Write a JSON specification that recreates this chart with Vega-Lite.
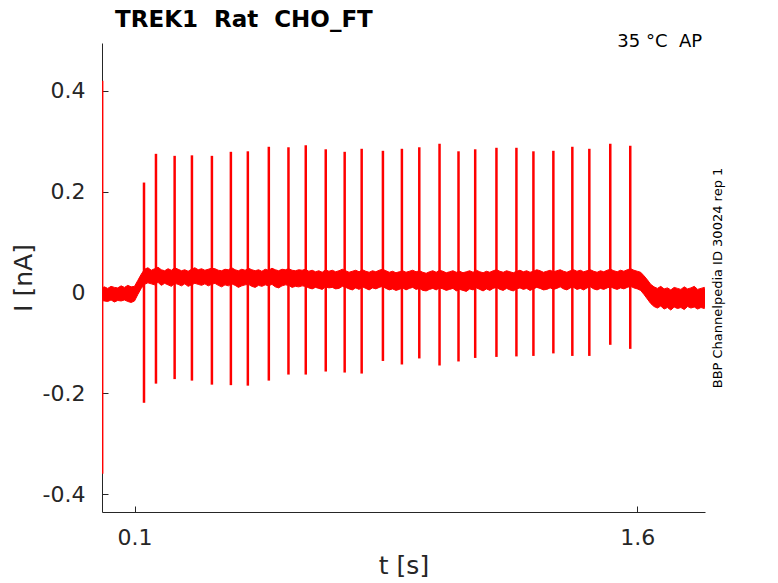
{
  "$schema": "https://vega.github.io/schema/vega-lite/v6.json",
  "autosize": {"type": "none"},
  "width": 603,
  "height": 469,
  "padding": {"left": 102, "top": 43, "right": 73, "bottom": 71},
  "background": "white",
  "config": {"view": {"stroke": null}, "font": "DejaVu Sans"},
  "datasets": {
    "band": [
      {"t":0.003,"hi":0.009,"lo":-0.016},{"t":0.01,"hi":0.011,"lo":-0.017},{"t":0.02,"hi":0.008,"lo":-0.018},{"t":0.03,"hi":0.012,"lo":-0.015},{"t":0.04,"hi":0.010,"lo":-0.019},{"t":0.05,"hi":0.009,"lo":-0.016},{"t":0.06,"hi":0.013,"lo":-0.017},{"t":0.07,"hi":0.010,"lo":-0.015},{"t":0.08,"hi":0.014,"lo":-0.018},{"t":0.09,"hi":0.011,"lo":-0.020},{"t":0.10,"hi":0.012,"lo":-0.017},
      {"t":0.11,"hi":0.024,"lo":-0.004},{"t":0.12,"hi":0.036,"lo":0.008},{"t":0.13,"hi":0.046,"lo":0.016},{"t":0.14,"hi":0.049,"lo":0.019},{"t":0.15,"hi":0.044,"lo":0.017},{"t":0.16,"hi":0.047,"lo":0.015},{"t":0.17,"hi":0.050,"lo":0.020},{"t":0.18,"hi":0.045,"lo":0.014},{"t":0.19,"hi":0.043,"lo":0.018},{"t":0.20,"hi":0.047,"lo":0.015},
      {"t":0.21,"hi":0.044,"lo":0.012},{"t":0.22,"hi":0.049,"lo":0.018},{"t":0.23,"hi":0.046,"lo":0.016},{"t":0.24,"hi":0.043,"lo":0.013},{"t":0.25,"hi":0.045,"lo":0.017},{"t":0.26,"hi":0.042,"lo":0.012},{"t":0.27,"hi":0.046,"lo":0.015},{"t":0.28,"hi":0.049,"lo":0.018},{"t":0.29,"hi":0.045,"lo":0.016},{"t":0.30,"hi":0.047,"lo":0.014},
      {"t":0.31,"hi":0.044,"lo":0.017},{"t":0.32,"hi":0.046,"lo":0.013},{"t":0.33,"hi":0.048,"lo":0.016},{"t":0.34,"hi":0.047,"lo":0.018},{"t":0.35,"hi":0.044,"lo":0.014},{"t":0.36,"hi":0.043,"lo":0.011},{"t":0.37,"hi":0.046,"lo":0.015},{"t":0.38,"hi":0.045,"lo":0.013},{"t":0.39,"hi":0.049,"lo":0.017},{"t":0.40,"hi":0.045,"lo":0.014},
      {"t":0.41,"hi":0.043,"lo":0.010},{"t":0.42,"hi":0.046,"lo":0.013},{"t":0.43,"hi":0.044,"lo":0.015},{"t":0.44,"hi":0.048,"lo":0.016},{"t":0.45,"hi":0.045,"lo":0.012},{"t":0.46,"hi":0.043,"lo":0.010},{"t":0.47,"hi":0.045,"lo":0.014},{"t":0.48,"hi":0.042,"lo":0.012},{"t":0.49,"hi":0.046,"lo":0.015},{"t":0.50,"hi":0.044,"lo":0.013},
      {"t":0.51,"hi":0.048,"lo":0.016},{"t":0.52,"hi":0.045,"lo":0.011},{"t":0.53,"hi":0.043,"lo":0.009},{"t":0.54,"hi":0.046,"lo":0.013},{"t":0.55,"hi":0.045,"lo":0.015},{"t":0.56,"hi":0.047,"lo":0.014},{"t":0.57,"hi":0.044,"lo":0.010},{"t":0.58,"hi":0.043,"lo":0.012},{"t":0.59,"hi":0.045,"lo":0.011},{"t":0.60,"hi":0.044,"lo":0.013},
      {"t":0.61,"hi":0.046,"lo":0.012},{"t":0.62,"hi":0.042,"lo":0.009},{"t":0.63,"hi":0.044,"lo":0.007},{"t":0.64,"hi":0.041,"lo":0.010},{"t":0.65,"hi":0.043,"lo":0.008},{"t":0.66,"hi":0.040,"lo":0.006},{"t":0.67,"hi":0.045,"lo":0.011},{"t":0.68,"hi":0.042,"lo":0.009},{"t":0.69,"hi":0.044,"lo":0.010},{"t":0.70,"hi":0.041,"lo":0.007},
      {"t":0.71,"hi":0.043,"lo":0.008},{"t":0.72,"hi":0.046,"lo":0.012},{"t":0.73,"hi":0.043,"lo":0.010},{"t":0.74,"hi":0.040,"lo":0.007},{"t":0.75,"hi":0.042,"lo":0.005},{"t":0.76,"hi":0.044,"lo":0.009},{"t":0.77,"hi":0.041,"lo":0.006},{"t":0.78,"hi":0.045,"lo":0.011},{"t":0.79,"hi":0.042,"lo":0.008},{"t":0.80,"hi":0.040,"lo":0.005},
      {"t":0.81,"hi":0.043,"lo":0.009},{"t":0.82,"hi":0.041,"lo":0.007},{"t":0.83,"hi":0.044,"lo":0.010},{"t":0.84,"hi":0.046,"lo":0.012},{"t":0.85,"hi":0.043,"lo":0.008},{"t":0.86,"hi":0.040,"lo":0.005},{"t":0.87,"hi":0.042,"lo":0.007},{"t":0.88,"hi":0.039,"lo":0.004},{"t":0.89,"hi":0.041,"lo":0.006},{"t":0.90,"hi":0.043,"lo":0.009},
      {"t":0.91,"hi":0.040,"lo":0.005},{"t":0.92,"hi":0.042,"lo":0.008},{"t":0.93,"hi":0.044,"lo":0.010},{"t":0.94,"hi":0.041,"lo":0.006},{"t":0.95,"hi":0.043,"lo":0.008},{"t":0.96,"hi":0.040,"lo":0.004},{"t":0.97,"hi":0.038,"lo":0.003},{"t":0.98,"hi":0.041,"lo":0.006},{"t":0.99,"hi":0.043,"lo":0.008},{"t":1.00,"hi":0.040,"lo":0.005},
      {"t":1.01,"hi":0.044,"lo":0.009},{"t":1.02,"hi":0.042,"lo":0.007},{"t":1.03,"hi":0.039,"lo":0.004},{"t":1.04,"hi":0.041,"lo":0.006},{"t":1.05,"hi":0.043,"lo":0.008},{"t":1.06,"hi":0.040,"lo":0.003},{"t":1.07,"hi":0.042,"lo":0.006},{"t":1.08,"hi":0.039,"lo":0.004},{"t":1.09,"hi":0.041,"lo":0.002},{"t":1.10,"hi":0.043,"lo":0.007},
      {"t":1.11,"hi":0.040,"lo":0.005},{"t":1.12,"hi":0.044,"lo":0.009},{"t":1.13,"hi":0.041,"lo":0.006},{"t":1.14,"hi":0.039,"lo":0.003},{"t":1.15,"hi":0.042,"lo":0.007},{"t":1.16,"hi":0.040,"lo":0.004},{"t":1.17,"hi":0.043,"lo":0.008},{"t":1.18,"hi":0.045,"lo":0.010},{"t":1.19,"hi":0.042,"lo":0.006},{"t":1.20,"hi":0.040,"lo":0.004},
      {"t":1.21,"hi":0.043,"lo":0.008},{"t":1.22,"hi":0.041,"lo":0.005},{"t":1.23,"hi":0.039,"lo":0.003},{"t":1.24,"hi":0.042,"lo":0.007},{"t":1.25,"hi":0.044,"lo":0.009},{"t":1.26,"hi":0.041,"lo":0.006},{"t":1.27,"hi":0.043,"lo":0.008},{"t":1.28,"hi":0.040,"lo":0.004},{"t":1.29,"hi":0.042,"lo":0.007},{"t":1.30,"hi":0.045,"lo":0.010},
      {"t":1.31,"hi":0.043,"lo":0.008},{"t":1.32,"hi":0.040,"lo":0.005},{"t":1.33,"hi":0.042,"lo":0.006},{"t":1.34,"hi":0.044,"lo":0.009},{"t":1.35,"hi":0.041,"lo":0.006},{"t":1.36,"hi":0.043,"lo":0.008},{"t":1.37,"hi":0.045,"lo":0.011},{"t":1.38,"hi":0.042,"lo":0.007},{"t":1.39,"hi":0.040,"lo":0.005},{"t":1.40,"hi":0.043,"lo":0.009},
      {"t":1.41,"hi":0.045,"lo":0.010},{"t":1.42,"hi":0.042,"lo":0.006},{"t":1.43,"hi":0.044,"lo":0.008},{"t":1.44,"hi":0.041,"lo":0.005},{"t":1.45,"hi":0.043,"lo":0.009},{"t":1.46,"hi":0.045,"lo":0.011},{"t":1.47,"hi":0.042,"lo":0.007},{"t":1.48,"hi":0.040,"lo":0.005},{"t":1.49,"hi":0.043,"lo":0.008},{"t":1.50,"hi":0.041,"lo":0.006},
      {"t":1.51,"hi":0.044,"lo":0.009},{"t":1.52,"hi":0.046,"lo":0.011},{"t":1.53,"hi":0.043,"lo":0.008},{"t":1.54,"hi":0.041,"lo":0.006},{"t":1.55,"hi":0.044,"lo":0.009},{"t":1.56,"hi":0.042,"lo":0.007},{"t":1.57,"hi":0.045,"lo":0.010},{"t":1.58,"hi":0.047,"lo":0.012},{"t":1.59,"hi":0.044,"lo":0.009},{"t":1.60,"hi":0.042,"lo":0.007},
      {"t":1.61,"hi":0.040,"lo":0.004},{"t":1.62,"hi":0.033,"lo":-0.004},{"t":1.63,"hi":0.025,"lo":-0.013},{"t":1.64,"hi":0.016,"lo":-0.022},{"t":1.65,"hi":0.011,"lo":-0.028},{"t":1.66,"hi":0.008,"lo":-0.031},{"t":1.67,"hi":0.012,"lo":-0.027},{"t":1.68,"hi":0.007,"lo":-0.033},{"t":1.69,"hi":0.009,"lo":-0.030},{"t":1.70,"hi":0.005,"lo":-0.035},
      {"t":1.71,"hi":0.010,"lo":-0.029},{"t":1.72,"hi":0.008,"lo":-0.032},{"t":1.73,"hi":0.006,"lo":-0.030},{"t":1.74,"hi":0.011,"lo":-0.034},{"t":1.75,"hi":0.007,"lo":-0.028},{"t":1.76,"hi":0.009,"lo":-0.031},{"t":1.77,"hi":0.012,"lo":-0.029},{"t":1.78,"hi":0.006,"lo":-0.033},{"t":1.79,"hi":0.008,"lo":-0.030},{"t":1.80,"hi":0.010,"lo":-0.032},{"t":1.802,"hi":0.007,"lo":-0.029}
    ],
    "spikes": [
      {"t":0.0035,"lo":-0.36,"hi":0.42},
      {"t":0.1283,"lo":-0.219,"hi":0.218},
      {"t":0.1640,"lo":-0.181,"hi":0.275},
      {"t":0.2197,"lo":-0.172,"hi":0.271},
      {"t":0.2713,"lo":-0.175,"hi":0.272},
      {"t":0.3309,"lo":-0.183,"hi":0.271},
      {"t":0.3875,"lo":-0.184,"hi":0.279},
      {"t":0.4381,"lo":-0.185,"hi":0.280},
      {"t":0.5007,"lo":-0.175,"hi":0.289},
      {"t":0.5593,"lo":-0.163,"hi":0.288},
      {"t":0.6109,"lo":-0.163,"hi":0.292},
      {"t":0.6705,"lo":-0.157,"hi":0.284},
      {"t":0.7270,"lo":-0.159,"hi":0.279},
      {"t":0.7777,"lo":-0.161,"hi":0.285},
      {"t":0.8411,"lo":-0.136,"hi":0.281},
      {"t":0.8977,"lo":-0.143,"hi":0.285},
      {"t":0.9496,"lo":-0.131,"hi":0.288},
      {"t":1.0100,"lo":-0.145,"hi":0.295},
      {"t":1.0666,"lo":-0.137,"hi":0.280},
      {"t":1.1164,"lo":-0.130,"hi":0.284},
      {"t":1.1798,"lo":-0.128,"hi":0.287},
      {"t":1.2394,"lo":-0.127,"hi":0.287},
      {"t":1.2901,"lo":-0.126,"hi":0.280},
      {"t":1.3496,"lo":-0.121,"hi":0.281},
      {"t":1.4062,"lo":-0.126,"hi":0.289},
      {"t":1.4569,"lo":-0.126,"hi":0.285},
      {"t":1.5194,"lo":-0.104,"hi":0.295},
      {"t":1.5790,"lo":-0.112,"hi":0.291}
    ]
  },
  "layer": [
    {
      "data": {"name": "band"},
      "mark": {"type": "area", "color": "#ff0000", "stroke": "#ff0000", "strokeWidth": 1, "clip": true},
      "encoding": {
        "x": {"field": "t", "type": "quantitative",
          "scale": {"domain": [0.003, 1.802], "nice": false, "zero": false},
          "axis": {"values": [0.1, 1.6], "labelExpr": "format(datum.value, '.1f')", "title": "t [s]", "grid": false,
            "domainColor": "#262626", "domainWidth": 1, "tickColor": "#262626", "tickWidth": 1, "tickSize": -6,
            "labelPadding": 21, "labelFontSize": 22, "labelColor": "#262626", "labelFont": "DejaVu Sans", "labelFlush": false,
            "titleFontSize": 25, "titleColor": "#262626", "titleFontWeight": "normal", "titleFont": "DejaVu Sans", "titlePadding": 5}},
        "y": {"field": "hi", "type": "quantitative",
          "scale": {"domain": [-0.4357, 0.4949], "nice": false, "zero": false},
          "axis": {"values": [-0.4, -0.2, 0, 0.2, 0.4], "labelExpr": "replace(format(datum.value, '.1~f'), '\u2212', '-')", "title": "I [nA]", "grid": false,
            "domainColor": "#262626", "domainWidth": 1, "tickColor": "#262626", "tickWidth": 1, "tickSize": -6,
            "labelPadding": 23, "labelFontSize": 22, "labelColor": "#262626", "labelFont": "DejaVu Sans",
            "titleFontSize": 25, "titleColor": "#262626", "titleFontWeight": "normal", "titleFont": "DejaVu Sans", "titlePadding": 6}},
        "y2": {"field": "lo"}
      }
    },
    {
      "data": {"name": "spikes"},
      "mark": {"type": "rule", "color": "#ff0000", "strokeWidth": 2.5, "clip": true},
      "encoding": {
        "x": {"field": "t", "type": "quantitative"},
        "y": {"field": "lo", "type": "quantitative", "axis": null},
        "y2": {"field": "hi"}
      }
    },
    {
      "data": {"values": [{}]},
      "mark": {"type": "text", "align": "left", "baseline": "alphabetic", "fontSize": 23, "fontWeight": "bold", "color": "#000000", "font": "DejaVu Sans"},
      "encoding": {
        "x": {"datum": 0.0419, "type": "quantitative"},
        "y": {"datum": 0.527, "type": "quantitative", "axis": null},
        "text": {"value": "TREK1\u00a0 Rat\u00a0 CHO_FT"}
      }
    },
    {
      "data": {"values": [{}]},
      "mark": {"type": "text", "align": "right", "baseline": "alphabetic", "fontSize": 18, "color": "#000000", "font": "DejaVu Sans"},
      "encoding": {
        "x": {"datum": 1.7936, "type": "quantitative"},
        "y": {"datum": 0.4875, "type": "quantitative",
          "axis": {"orient": "right", "title": "BBP Channelpedia ID 30024 rep 1", "domain": false, "ticks": false, "labels": false, "grid": false,
            "titleAngle": 270, "titleFontSize": 13, "titleColor": "#000000", "titleFontWeight": "normal", "titleFont": "DejaVu Sans", "titlePadding": 6, "titleBaseline": "top"}},
        "text": {"value": "35 °C\u00a0 AP"}
      }
    }
  ],
  "resolve": {"axis": {"y": "independent"}}
}
